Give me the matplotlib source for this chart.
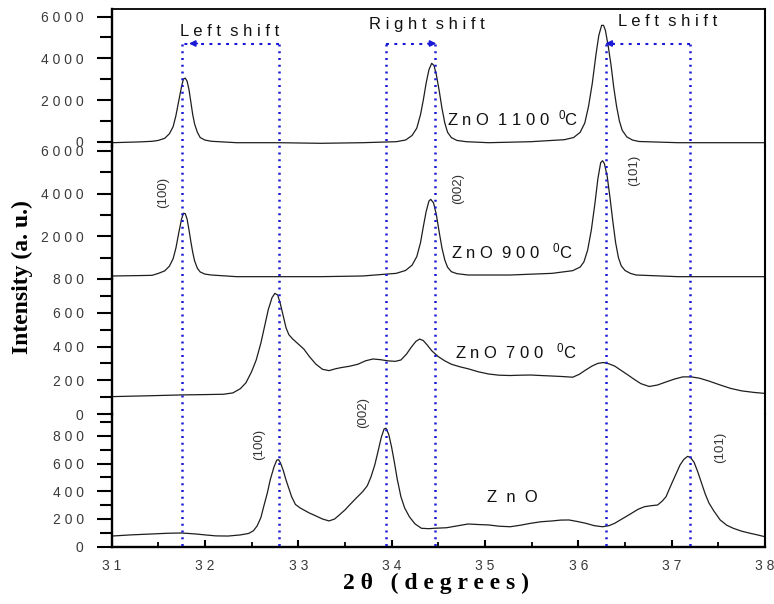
import matplotlib
matplotlib.use('Agg')
import matplotlib.pyplot as plt

plt.rcParams['font.family'] = ['Liberation Sans', 'DejaVu Sans']
plt.rcParams['mathtext.default'] = 'regular'

# ---------------- data ----------------
two_theta_1100 = [31.006, 31.30, 31.435, 31.50, 31.57, 31.62, 31.66, 31.69, 31.72, 31.75, 31.77,
                  31.79, 31.81, 31.83, 31.85, 31.87, 31.89, 31.92, 31.95, 32.00, 32.07, 32.34,
                  32.79, 33.24, 33.69, 34.05, 34.15, 34.22, 34.27, 34.31, 34.34, 34.37, 34.40,
                  34.43, 34.455, 34.48, 34.51, 34.54, 34.57, 34.60, 34.64, 34.70, 34.80, 35.04,
                  35.49, 35.85, 35.95, 36.02, 36.07, 36.11, 36.15, 36.19, 36.22, 36.25, 36.27,
                  36.29, 36.32, 36.35, 36.38, 36.41, 36.44, 36.47, 36.52, 36.58, 36.65, 37.07,
                  37.52, 38.0]
intensity_1100 = [-48, -10, 19, 60, 163, 380, 719, 1250, 1950, 2638, 3000,
                  3050, 2900, 2500, 1900, 1300, 850, 450, 200, 80, 20, -48,
                  -48, -77, -48, 0, 80, 300, 650, 1300, 2000, 2800, 3450,
                  3760, 3650, 3200, 2450, 1600, 900, 450, 200, 60, 0, -48,
                  0, 96, 200, 450, 900, 1700, 2800, 4200, 5100, 5580, 5580,
                  5350, 4600, 3700, 2600, 1700, 1000, 550, 230, 80, 10, -48,
                  -48, -48]

two_theta_900 = [31.006, 31.30, 31.435, 31.50, 31.57, 31.62, 31.66, 31.69, 31.72, 31.75, 31.77,
                 31.79, 31.81, 31.83, 31.85, 31.87, 31.89, 31.92, 31.95, 32.00, 32.07, 32.34,
                 32.79, 33.24, 33.69, 34.05, 34.15, 34.22, 34.27, 34.31, 34.34, 34.37, 34.40,
                 34.42, 34.45, 34.48, 34.51, 34.54, 34.57, 34.60, 34.64, 34.70, 34.82, 35.27,
                 35.72, 35.94, 36.02, 36.06, 36.10, 36.14, 36.18, 36.21, 36.24, 36.26, 36.28,
                 36.31, 36.34, 36.37, 36.40, 36.43, 36.46, 36.50, 36.56, 36.62, 37.07, 37.52,
                 38.0]
intensity_900 = [141, 160, 172, 260, 380, 600, 950, 1450, 2150, 2800, 3080,
                 3060, 2800, 2300, 1750, 1250, 850, 500, 330, 230, 187, 109,
                 109, 109, 141, 265, 400, 650, 1050, 1700, 2450, 3150, 3650,
                 3730, 3560, 3000, 2200, 1450, 890, 550, 343, 250, 187, 187,
                 265, 390, 560, 800, 1350, 2300, 3600, 4700, 5450, 5540, 5400,
                 4800, 3800, 2700, 1700, 1000, 620, 400, 260, 187, 109, 109,
                 109]

two_theta_700 = [31.006, 31.40, 31.75, 32.00, 32.20, 32.30, 32.38, 32.44, 32.50, 32.55, 32.60,
                 32.64, 32.68, 32.72, 32.75, 32.78, 32.81, 32.84, 32.87, 32.90, 32.94, 32.98,
                 33.02, 33.06, 33.12, 33.19, 33.26, 33.33, 33.40, 33.46, 33.55, 33.64, 33.72,
                 33.80, 33.88, 33.96, 34.04, 34.10, 34.16, 34.21, 34.26, 34.30, 34.34, 34.38,
                 34.43, 34.50, 34.57, 34.64, 34.73, 34.82, 34.93, 35.04, 35.15, 35.27, 35.38,
                 35.49, 35.60, 35.72, 35.83, 35.94, 36.01, 36.08, 36.15, 36.21, 36.27, 36.33,
                 36.39, 36.46, 36.53, 36.60, 36.67, 36.76, 36.85, 36.94, 37.03, 37.12, 37.21,
                 37.30, 37.40, 37.52, 37.63, 37.75, 37.88, 38.0]
intensity_700 = [103, 108, 113, 115, 117, 125, 150, 185, 250, 320, 420,
                 520, 620, 690, 715, 705, 650, 580, 510, 470, 445, 425,
                 405, 385, 340, 295, 265, 257, 268, 275, 283, 295, 315,
                 326, 322, 315, 312, 320, 355, 395, 430, 444, 435, 410,
                 375, 340, 315, 295, 280, 268, 250, 237, 230, 228, 230,
                 231, 228, 225, 222, 218, 235, 261, 285, 300, 305, 297,
                 284, 258, 232, 205, 180, 163, 172, 190, 207, 220, 220,
                 212, 195, 172, 152, 137, 128, 122]

two_theta_zno = [31.006, 31.20, 31.435, 31.60, 31.75, 31.90, 32.02, 32.12, 32.25, 32.38, 32.47,
                 32.52, 32.56, 32.60, 32.63, 32.67, 32.70, 32.74, 32.77, 32.79, 32.81, 32.84,
                 32.87, 32.90, 32.93, 32.97, 33.02, 33.06, 33.12, 33.19, 33.26, 33.33, 33.39,
                 33.44, 33.50, 33.55, 33.62, 33.69, 33.74, 33.78, 33.82, 33.85, 33.89, 33.92,
                 33.94, 33.97, 34.00, 34.03, 34.06, 34.10, 34.14, 34.19, 34.25, 34.32, 34.40,
                 34.46, 34.59, 34.70, 34.82, 34.93, 35.04, 35.15, 35.27, 35.38, 35.49, 35.60,
                 35.72, 35.81, 35.90, 35.99, 36.08, 36.17, 36.26, 36.33, 36.39, 36.48, 36.57,
                 36.64, 36.71, 36.78, 36.85, 36.90, 36.94, 36.99, 37.05, 37.09, 37.13, 37.17,
                 37.20, 37.24, 37.28, 37.32, 37.36, 37.40, 37.45, 37.52, 37.59, 37.66, 37.75,
                 37.84, 37.92, 38.0]
intensity_zno = [77, 85, 92, 97, 99, 92, 84, 78, 77, 85, 96,
                 115, 150, 210, 289, 390, 482, 575, 625, 628, 605, 550,
                 480, 420, 360, 305, 280, 265, 243, 222, 200, 186, 200,
                 229, 265, 301, 350, 397, 440, 505, 590, 674, 790, 850,
                 855, 810, 720, 610, 490, 361, 280, 217, 165, 133, 130,
                 133, 137, 150, 164, 160, 157, 148, 144, 155, 169, 180,
                 186, 192, 193, 182, 169, 152, 144, 152, 169, 205, 241,
                 270, 289, 296, 301, 330, 361, 440, 530, 590, 630, 652,
                 645, 610, 540, 460, 380, 315, 260, 193, 155, 133, 112,
                 97, 85, 72]

shift_lines = [31.755, 32.79, 33.94, 34.46, 36.295, 37.20]
x_ticks = [31, 32, 33, 34, 35, 36, 37, 38]

# ---------------- layout ----------------
W, H = 774, 604
X0, X1 = 111.5, 765.0
BLUE = '#1a1ad6'
INK = '#1e1e1e'
TICKC = '#3a3a3a'


def box(top, bot):
    return [X0 / W, 1 - bot / H, (X1 - X0) / W, (bot - top) / H]


def spaced(v):
    return ' '.join(str(v))


fig = plt.figure(figsize=(W / 100, H / 100), dpi=100)

panels = [
    dict(top=9, bot=146, zero=141.7, k=2000 / 41.7, major=[0, 2000, 4000, 6000],
         minor=[1000, 3000, 5000], x=two_theta_1100, y=intensity_1100),
    dict(top=146, bot=279, zero=279, k=2000 / 42.7, major=[2000, 4000, 6000],
         minor=[1000, 3000, 5000], x=two_theta_900, y=intensity_900),
    dict(top=279, bot=414, zero=414, k=800 / 135, major=[0, 200, 400, 600, 800],
         minor=[100, 300, 500, 700], x=two_theta_700, y=intensity_700),
    dict(top=414, bot=546.7, zero=546.7, k=958 / 132.7, major=[0, 200, 400, 600, 800],
         minor=[100, 300, 500, 700, 900], x=two_theta_zno, y=intensity_zno),
]

axes = []
for i, p in enumerate(panels):
    ax = fig.add_axes(box(p['top'], p['bot']))
    ax.patch.set_alpha(0)
    ax.set_xlim(31, 38)
    ax.set_ylim((p['zero'] - p['bot']) * p['k'], (p['zero'] - p['top']) * p['k'])
    ax.plot(p['x'], p['y'], color=INK, lw=0.9, solid_joinstyle='round')
    for s in ax.spines.values():
        s.set_visible(False)
    ax.spines['left'].set_visible(True)
    ax.spines['left'].set_linewidth(1.7)
    ax.spines['right'].set_visible(True)
    ax.spines['right'].set_linewidth(1.5)
    if i == 0:
        ax.spines['top'].set_visible(True)
        ax.spines['top'].set_linewidth(1.3)
    ax.set_yticks(p['major'])
    ax.set_yticklabels([spaced(v) for v in p['major']])
    ax.set_yticks(p['minor'], minor=True)
    ax.tick_params(axis='y', which='major', direction='out', length=11, width=1.5,
                   labelsize=10, labelcolor=TICKC, pad=9)
    ax.tick_params(axis='y', which='minor', direction='out', length=9, width=1.5)
    ax.tick_params(axis='y', right=False, which='both')
    if i == len(panels) - 1:
        ax.spines['bottom'].set_visible(True)
        ax.spines['bottom'].set_linewidth(1.7)
        ax.set_xticks(x_ticks)
        ax.set_xticklabels([spaced(v) for v in x_ticks])
        ax.set_xticks([v + 0.5 for v in x_ticks[:-1]], minor=True)
        ax.tick_params(axis='x', which='major', direction='in', length=5, width=1.5,
                       labelsize=10, labelcolor=TICKC, pad=9)
        ax.tick_params(axis='x', which='minor', direction='in', length=3.5, width=1.3)
    else:
        ax.set_xticks([])
    axes.append(ax)

# overlay in pixel rows for guide lines and annotations
ov = fig.add_axes(box(9, 546.7), zorder=5)
ov.set_xlim(31, 38)
ov.set_ylim(546.7, 9)
ov.axis('off')
ov.patch.set_alpha(0)

ov.vlines(shift_lines, 43.5, 548, colors=BLUE, lw=1.8, linestyles=[(0, (0.8, 1.9))])
arrow_pairs = [(shift_lines[1], shift_lines[0], 31.83), (shift_lines[2], shift_lines[3], 34.48),
               (shift_lines[5], shift_lines[4], 36.29)]
for a, b, tip in arrow_pairs:
    ov.hlines(43.5, a, b, colors=BLUE, lw=1.5, linestyles=[(0, (1.4, 2.6))])
    d = 0.09 if b < a else -0.09
    ov.annotate('', xy=(tip, 43.5), xytext=(tip + d, 43.5),
                arrowprops=dict(arrowstyle='-|>', color=BLUE, lw=1.2, mutation_scale=9,
                                shrinkA=0, shrinkB=0))

txt = dict(fontsize=12, color='#111111')
ov.text(32.26, 31, 'L e f t  s h i f t', ha='center', va='center', **txt)
ov.text(34.38, 25, 'R i g h t  s h i f t', ha='center', va='center', **txt)
ov.text(36.96, 22, 'L e f t  s h i f t', ha='center', va='center', **txt)
ov.text(34.59, 118, 'Z n O  1 1 0 0  $^{0}$C', ha='left', va='center', **txt)
ov.text(34.64, 251, 'Z n O  9 0 0   $^{0}$C', ha='left', va='center', **txt)
ov.text(34.68, 351, 'Z n O  7 0 0   $^{0}$C', ha='left', va='center', **txt)
ov.text(35.02, 497, 'Z  n  O', ha='left', va='center', **txt)

hkl = dict(fontsize=9.5, color='#333333', rotation=90, ha='center', va='center')
ov.text(31.55, 192, '(100)', **hkl)
ov.text(34.71, 188, '(002)', **hkl)
ov.text(36.60, 170, '(101)', **hkl)
ov.text(33.69, 413, '(002)', **hkl)
ov.text(32.58, 444, '(100)', **hkl)
ov.text(37.52, 447, '(101)', **hkl)

fig.text(22 / W, 1 - 277 / H, 'Intensity (a. u.)', rotation=90, ha='center', va='center',
         fontfamily=['Liberation Serif', 'DejaVu Serif'], fontweight='bold', fontsize=17)
fig.text(436 / W, 1 - 583 / H, '2 θ   ( d e g r e e s )', ha='center', va='center',
         fontfamily=['Liberation Serif', 'DejaVu Serif'], fontweight='bold', fontsize=17)

fig.savefig('out.png', dpi=100)
